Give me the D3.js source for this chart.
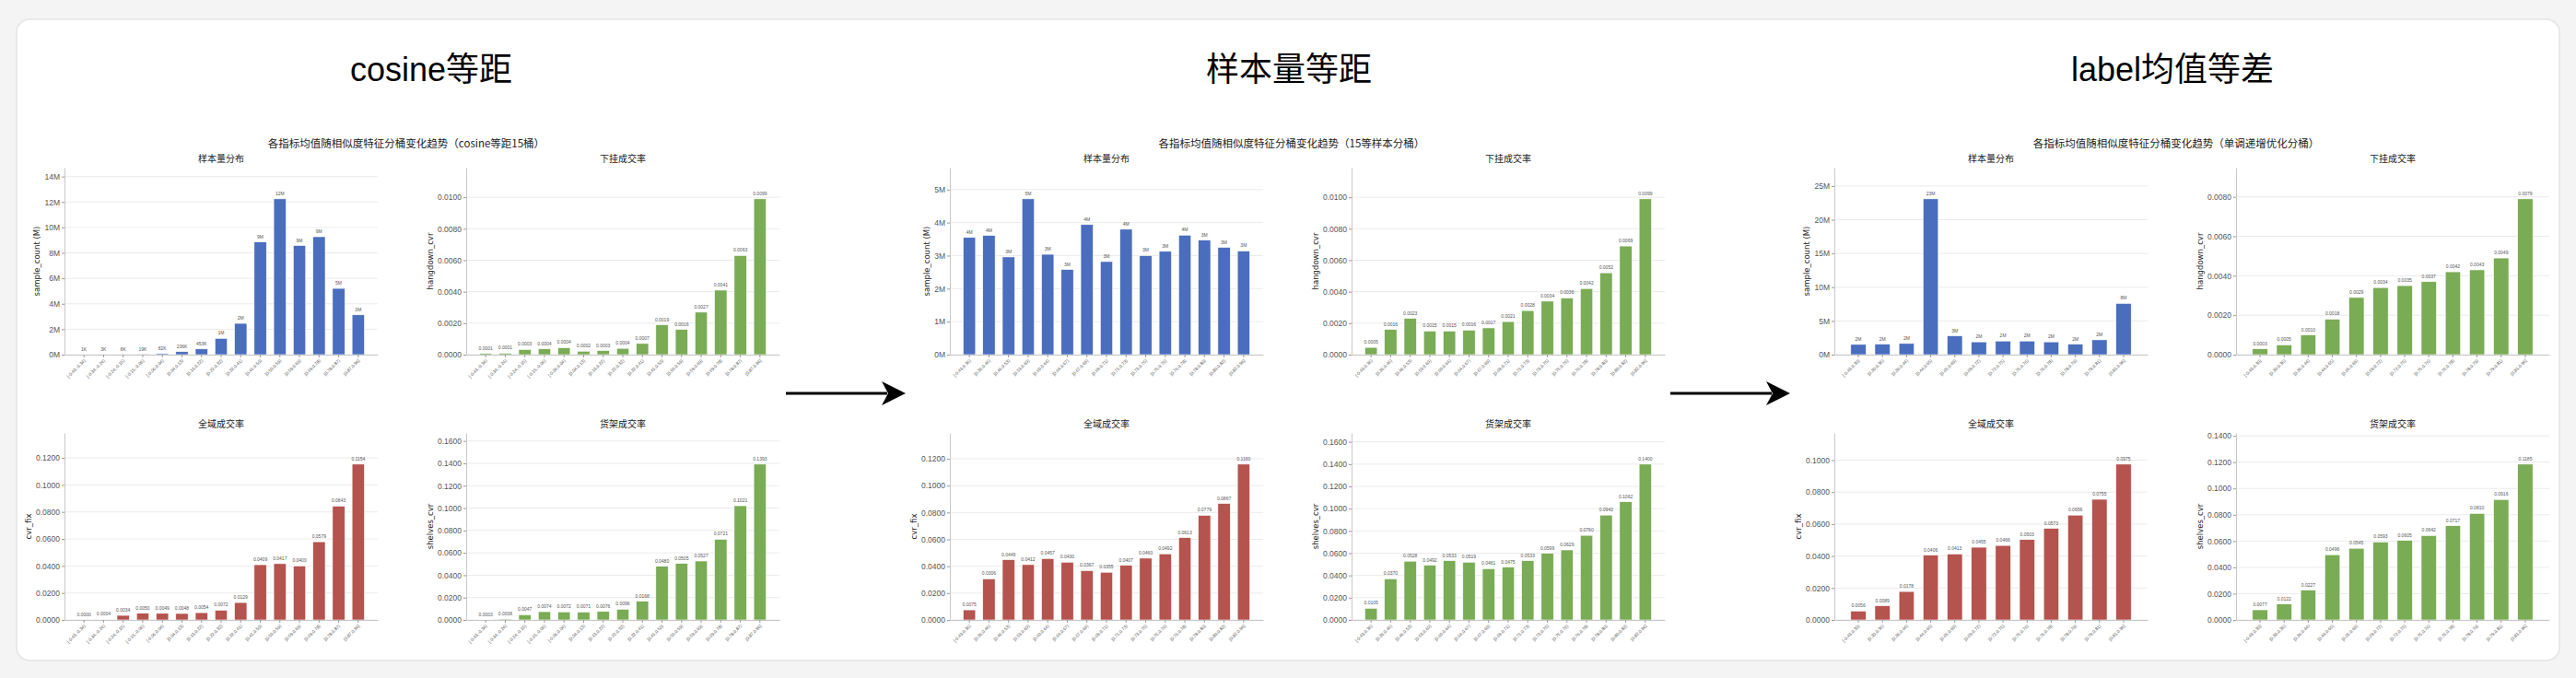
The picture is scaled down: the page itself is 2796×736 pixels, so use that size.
<!DOCTYPE html>
<html>
<head>
<meta charset="utf-8">
<script src="https://cdn.jsdelivr.net/npm/d3@7"></script>
<style>
  html, body { margin: 0; padding: 0; background: #f4f4f4; }
  svg { display: block; }
</style>
</head>
<body>
<div id="chart"></div>
<script>
// cosine 等距 15 桶
const cosineBins = ['[-0.43,-0.34)', '[-0.34,-0.24)', '[-0.24,-0.15)', '[-0.15,-0.06)', '[-0.06,0.04)',
  '[0.04,0.13)', '[0.13,0.22)', '[0.22,0.32)', '[0.32,0.41)', '[0.41,0.50)',
  '[0.50,0.59)', '[0.59,0.69)', '[0.69,0.78)', '[0.78,0.87)', '[0.87,0.96]'];
const cosineSample = [0.001, 0.003, 0.008, 0.019, 0.082, 0.236, 0.453, 1.28, 2.46, 8.86, 12.25, 8.58, 9.27, 5.21, 3.13];
const cosineHangdown = [0.00008, 0.00009, 0.00033, 0.00037, 0.00044, 0.00022, 0.00026, 0.0004, 0.00071, 0.0019, 0.0016, 0.0027, 0.0041, 0.0063, 0.0099];
const cosineCvrFix = [0.0000, 0.0004, 0.0034, 0.0050, 0.0049, 0.0048, 0.0054, 0.0072, 0.0129, 0.0409, 0.0417, 0.0400, 0.0579, 0.0843, 0.1154];
const cosineShelves = [0.0003, 0.0008, 0.0047, 0.0074, 0.0072, 0.0071, 0.0076, 0.0096, 0.0168, 0.0480, 0.0505, 0.0527, 0.0721, 0.1021, 0.1393];

// 15 等样本分桶
const sampleBins = ['[-0.43,0.36)', '[0.36,0.46)', '[0.46,0.53)', '[0.53,0.60)', '[0.60,0.64)',
  '[0.64,0.67)', '[0.67,0.69)', '[0.69,0.71)', '[0.71,0.73)', '[0.73,0.75)',
  '[0.75,0.76)', '[0.76,0.78)', '[0.78,0.80)', '[0.80,0.82)', '[0.82,0.96]'];
const sampleSample = [3.55, 3.61, 2.96, 4.72, 3.04, 2.58, 3.94, 2.82, 3.80, 3.00, 3.13, 3.62, 3.47, 3.25, 3.14];
const sampleHangdown = [0.00046, 0.0016, 0.0023, 0.0015, 0.0015, 0.00156, 0.0017, 0.0021, 0.0028, 0.0034, 0.0036, 0.0042, 0.0052, 0.0069, 0.0099];
const sampleCvrFix = [0.0075, 0.0306, 0.0449, 0.0412, 0.0457, 0.0430, 0.0367, 0.0355, 0.0407, 0.0460, 0.0492, 0.0613, 0.0779, 0.0867, 0.1160];
const sampleShelves = [0.0105, 0.0370, 0.0528, 0.0492, 0.0533, 0.0519, 0.0461, 0.0475, 0.0533, 0.0599, 0.0629, 0.0760, 0.0942, 0.1062, 0.1400];

// 单调递增优化分桶 (12 桶)
const labelBins = ['[-0.43,0.30)', '[0.30,0.36)', '[0.36,0.44)', '[0.44,0.65)', '[0.65,0.69)', '[0.69,0.72)',
  '[0.72,0.75)', '[0.75,0.76)', '[0.76,0.78)', '[0.78,0.79)', '[0.79,0.81)', '[0.81,0.96]'];
const labelSample = [1.52, 1.57, 1.66, 23.1, 2.79, 1.89, 2.02, 2.02, 1.89, 1.57, 2.2, 7.6];
const labelHangdown = [0.0003, 0.0005, 0.0010, 0.0018, 0.0029, 0.0034, 0.0035, 0.0037, 0.0042, 0.0043, 0.0049, 0.0079];
const labelCvrFix = [0.0056, 0.0089, 0.0178, 0.0406, 0.0413, 0.0455, 0.0466, 0.0503, 0.0573, 0.0656, 0.0755, 0.0975];
const labelShelves = [0.0077, 0.0122, 0.0227, 0.0496, 0.0545, 0.0593, 0.0605, 0.0642, 0.0717, 0.0810, 0.0916, 0.1185];

const panelTitles = ['cosine等距', '样本量等距', 'label均值等差'];
const panelSubtitles = [
  '各指标均值随相似度特征分桶变化趋势（cosine等距15桶）',
  '各指标均值随相似度特征分桶变化趋势（15等样本分桶）',
  '各指标均值随相似度特征分桶变化趋势（单调递增优化分桶）'
];

const panels = [
  {bins: cosineBins, sample: cosineSample, hangdown: cosineHangdown, cvrFix: cosineCvrFix, shelves: cosineShelves},
  {bins: sampleBins, sample: sampleSample, hangdown: sampleHangdown, cvrFix: sampleCvrFix, shelves: sampleShelves},
  {bins: labelBins, sample: labelSample, hangdown: labelHangdown, cvrFix: labelCvrFix, shelves: labelShelves}
];

const blue = '#4a6dbe';
const green = '#7aab55';
const red = '#b5534e';

const subplots = [
  {key: 'sample', title: '样本量分布', ylabel: 'sample_count (M)', color: blue, col: 0, row: 0},
  {key: 'hangdown', title: '下挂成交率', ylabel: 'hangdown_cvr', color: green, col: 1, row: 0},
  {key: 'cvrFix', title: '全域成交率', ylabel: 'cvr_fix', color: red, col: 0, row: 1},
  {key: 'shelves', title: '货架成交率', ylabel: 'shelves_cvr', color: green, col: 1, row: 1}
];

const width = 2796;
const height = 736;

const panelX = [0, 961, 1921];
const titleX = [468, 1399, 2358];
const colX = [70, 506];
const rowY = [[182, 385], [470, 673]];
const plotW = 340;

const cjk = '"Noto Sans CJK SC", "Noto Sans", sans-serif';
const latin = '"Liberation Sans", Arial, sans-serif';

const svg = d3.select('#chart').append('svg')
    .attr('width', width)
    .attr('height', height);

// card
svg.append('rect')
    .attr('x', 18)
    .attr('y', 21)
    .attr('width', 2760)
    .attr('height', 696)
    .attr('rx', 14)
    .attr('fill', '#fff')
    .attr('stroke', '#e4e4e4')
    .attr('stroke-width', 1.5);

panels.forEach((p, i) => {
  svg.append('text')
      .attr('x', titleX[i])
      .attr('y', 88)
      .attr('text-anchor', 'middle')
      .attr('font-family', '"Liberation Sans", "Noto Sans CJK SC", sans-serif')
      .attr('font-size', 36)
      .attr('fill', '#000')
      .text(panelTitles[i]);

  const g = svg.append('g')
      .attr('transform', `translate(${panelX[i]},0)`);

  g.append('text')
      .attr('x', 441)
      .attr('y', 160)
      .attr('text-anchor', 'middle')
      .attr('font-family', cjk)
      .attr('font-size', 11.5)
      .attr('fill', '#222')
      .text(panelSubtitles[i]);

  subplots.forEach(s => drawBars(g, p.bins, p[s.key], s));
});

function drawBars(parent, bins, values, spec) {
  const [top, bottom] = rowY[spec.row];
  const g = parent.append('g')
      .attr('transform', `translate(${colX[spec.col]},0)`);

  const x = d3.scaleBand()
      .domain(bins)
      .range([0, plotW])
      .paddingInner(0.37)
      .paddingOuter(0.68);

  const y = d3.scaleLinear()
      .domain([0, d3.max(values) * 1.2])
      .range([bottom, top]);

  const isCount = spec.key === 'sample';
  const tickFmt = isCount ? (d => `${d}M`) : (d => d.toFixed(4));
  const valueFmt = isCount
    ? (d => d < 1 ? `${Math.round(d * 1000)}K` : `${Math.round(d)}M`)
    : (d => d.toFixed(4));

  const ticks = y.ticks(6);

  // grid
  g.selectAll('.grid')
    .data(ticks)
    .join('line')
      .attr('class', 'grid')
      .attr('x1', 0)
      .attr('x2', plotW)
      .attr('y1', d => y(d))
      .attr('y2', d => y(d))
      .attr('stroke', '#ebebeb')
      .attr('stroke-width', 1);

  // bars
  g.selectAll('.bar')
    .data(values)
    .join('rect')
      .attr('class', 'bar')
      .attr('x', (d, i) => x(bins[i]))
      .attr('y', d => y(d))
      .attr('width', x.bandwidth())
      .attr('height', d => bottom - y(d))
      .attr('fill', spec.color)
      .attr('stroke', '#fff')
      .attr('stroke-width', 0.6);

  g.selectAll('.value')
    .data(values)
    .join('text')
      .attr('class', 'value')
      .attr('x', (d, i) => x(bins[i]) + x.bandwidth() / 2)
      .attr('y', d => y(d) - 4)
      .attr('text-anchor', 'middle')
      .attr('font-family', latin)
      .attr('font-size', 5)
      .attr('fill', '#555')
      .text(valueFmt);

  // y axis
  const yAxis = g.append('g')
      .call(d3.axisLeft(y).tickValues(ticks).tickFormat(tickFmt).tickSize(3).tickSizeOuter(0).tickPadding(2));
  yAxis.select('.domain').attr('stroke', '#c8c8c8');
  yAxis.selectAll('.tick line').attr('stroke', '#999');
  yAxis.selectAll('.tick text')
      .attr('font-family', latin)
      .attr('font-size', 8.5)
      .attr('fill', '#555');

  let maxW = 0;
  yAxis.selectAll('.tick text').each(function() {
    maxW = Math.max(maxW, this.getComputedTextLength());
  });

  // x axis
  const xAxis = g.append('g')
      .attr('transform', `translate(0,${bottom})`)
      .call(d3.axisBottom(x).tickSize(3).tickSizeOuter(0).tickPadding(2));
  xAxis.select('.domain').attr('stroke', '#c8c8c8');
  xAxis.selectAll('.tick line').attr('stroke', '#999');
  xAxis.selectAll('.tick text')
      .attr('font-family', latin)
      .attr('font-size', 4.8)
      .attr('fill', '#555')
      .attr('text-anchor', 'end')
      .attr('dy', null)
      .attr('y', 0)
      .attr('dominant-baseline', 'middle')
      .attr('transform', 'translate(1,6) rotate(-45)');

  // titles
  g.append('text')
      .attr('x', plotW / 2)
      .attr('y', top - 6)
      .attr('text-anchor', 'middle')
      .attr('font-family', cjk)
      .attr('font-size', 10)
      .attr('fill', '#222')
      .text(spec.title);

  g.append('text')
      .attr('transform', 'rotate(-90)')
      .attr('x', -(top + bottom) / 2)
      .attr('y', -(maxW + 10))
      .attr('text-anchor', 'middle')
      .attr('font-family', '"DejaVu Sans", sans-serif')
      .attr('font-size', 8.5)
      .attr('fill', '#222')
      .text(spec.ylabel);
}

// arrows between panels
const arrows = [
  {x1: 853, x2: 983, y: 427},
  {x1: 1813, x2: 1943, y: 427}
];

svg.selectAll('.arrow')
  .data(arrows)
  .join('g')
    .attr('class', 'arrow')
    .call(g => g.append('line')
        .attr('x1', d => d.x1)
        .attr('x2', d => d.x2 - 20)
        .attr('y1', d => d.y)
        .attr('y2', d => d.y)
        .attr('stroke', '#000')
        .attr('stroke-width', 3))
    .call(g => g.append('path')
        .attr('d', d => `M${d.x2},${d.y} L${d.x2 - 26},${d.y - 13} L${d.x2 - 19},${d.y} L${d.x2 - 26},${d.y + 13} Z`)
        .attr('fill', '#000'));
</script>
</body>
</html>
